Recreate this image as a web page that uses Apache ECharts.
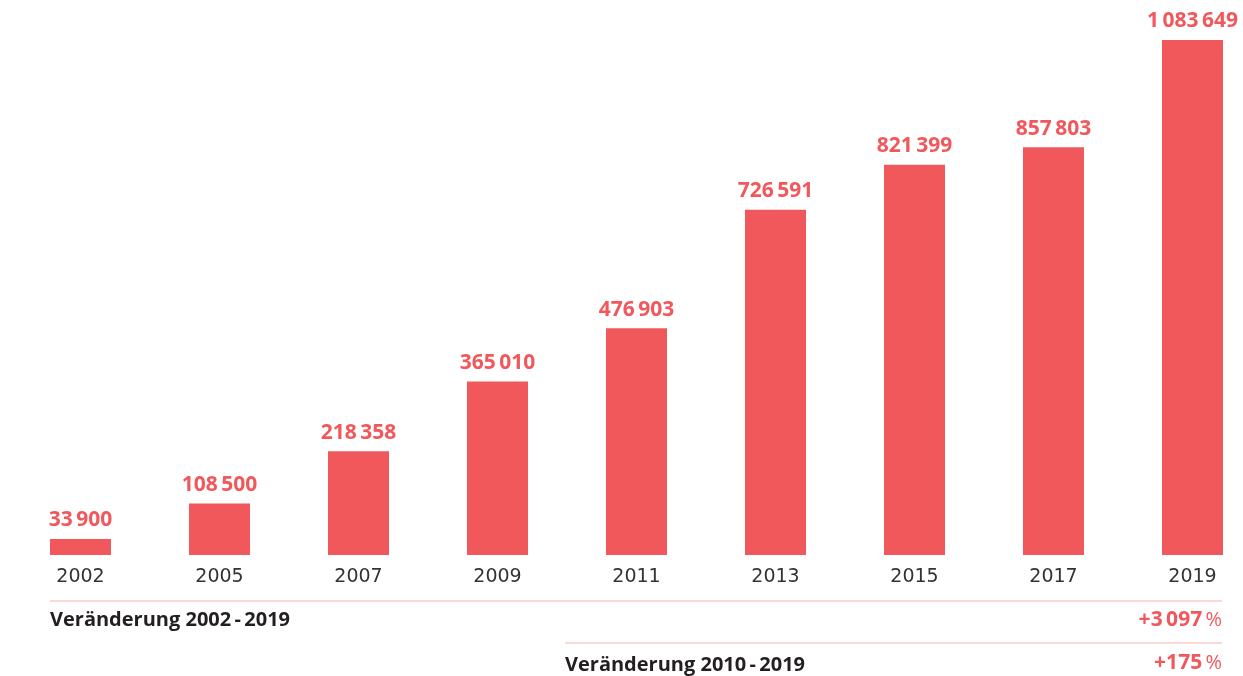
<!DOCTYPE html>
<html>
<head>
<meta charset="utf-8">
<script src="https://cdn.jsdelivr.net/npm/echarts@6/dist/echarts.min.js"></script>
<style>
html,body{margin:0;padding:0;background:#fff;}
#chart{width:1243px;height:676px;}
</style>
</head>
<body>
<div id="chart"></div>
<script>
const years = ['2002','2005','2007','2009','2011','2013','2015','2017','2019'];
const values = [33900,108500,218358,365010,476903,726591,821399,857803,1083649];
const changeLabels = ['Veränderung 2002\u2009-\u20092019','Veränderung 2010\u2009-\u20092019'];
const changeValues = ['+3\u2009097','+175'];

const RED = '#f1585c';
const DARK = '#231f20';
const LINE = '#f6b4ae';
const FONT = '"Open Sans", sans-serif';

function fmt(v){
  return String(v).replace(/\B(?=(\d{3})+(?!\d))/g, '\u2009');
}

const chart = echarts.init(document.getElementById('chart'));
chart.setOption({
  animation:false,
  grid:{left:80.5,right:50.5,top:40,bottom:121,containLabel:false},
  xAxis:{
    type:'category',
    data:years,
    boundaryGap:false,
    axisLine:{show:false},
    axisTick:{show:false},
    axisLabel:{color:'#333',fontFamily:'"DejaVu Sans", sans-serif',fontSize:19,margin:13}
  },
  yAxis:{
    type:'value',min:0,max:'dataMax',
    show:false,splitLine:{show:false}
  },
  series:[{
    type:'bar',
    data:values,
    barWidth:61,
    clip:false,
    itemStyle:{color:RED},
    label:{
      show:true,position:'top',distance:8,
      color:RED,fontFamily:FONT,fontWeight:'bold',fontSize:21,
      formatter:p=>fmt(p.value)
    }
  }],
  graphic:[
    {type:'line',shape:{x1:50,y1:601,x2:1222,y2:601},style:{stroke:LINE,lineWidth:1.2}},
    {type:'line',shape:{x1:565,y1:643,x2:1222,y2:643},style:{stroke:LINE,lineWidth:1.2}},
    {type:'text',left:50,top:610,style:{text:changeLabels[0],fill:DARK,font:'bold 20px "Open Sans", sans-serif'}},
    {type:'text',left:565,top:655,style:{text:changeLabels[1],fill:DARK,font:'bold 20px "Open Sans", sans-serif'}},
    {type:'text',right:21,top:610,style:{
      text:'{a|'+changeValues[0]+'}{b|\u2009%}',
      rich:{a:{fill:RED,fontFamily:FONT,fontWeight:'bold',fontSize:21},b:{fill:RED,fontFamily:FONT,fontWeight:'normal',fontSize:20}}
    }},
    {type:'text',right:21,top:653,style:{
      text:'{a|'+changeValues[1]+'}{b|\u2009%}',
      rich:{a:{fill:RED,fontFamily:FONT,fontWeight:'bold',fontSize:21},b:{fill:RED,fontFamily:FONT,fontWeight:'normal',fontSize:20}}
    }}
  ]
});
</script>
</body>
</html>
